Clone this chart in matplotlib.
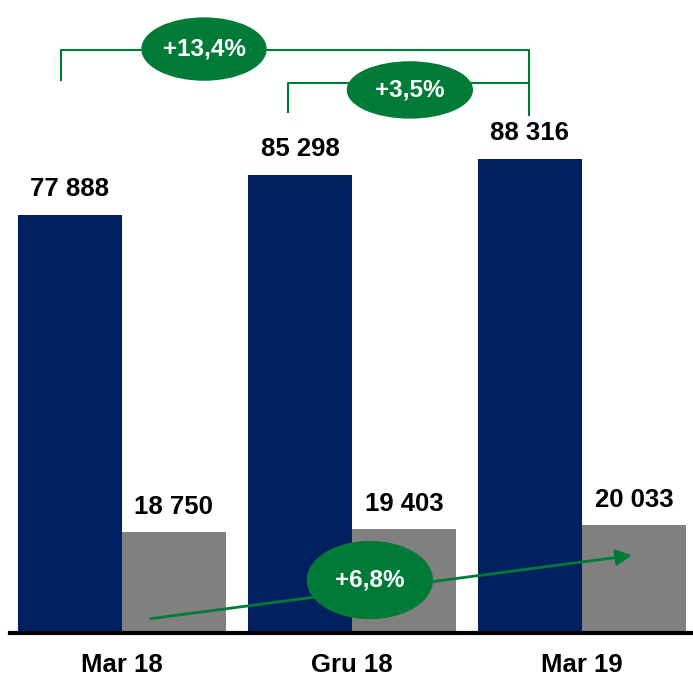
import matplotlib.pyplot as plt
from matplotlib.patches import Ellipse
import numpy as np

plt.rcParams['font.family'] = ['Liberation Sans', 'DejaVu Sans']

okresy = ['Mar 18', 'Gru 18', 'Mar 19']
seria_a = [77888, 85298, 88316]
seria_b = [18750, 19403, 20033]
etykiety_a = ['77 888', '85 298', '88 316']
etykiety_b = ['18 750', '19 403', '20 033']

granat = '#002060'
szary = '#808080'
zielony = '#007A37'

fig = plt.figure(figsize=(6.93, 6.77), dpi=100)
ax = fig.add_axes([0, 0.065, 1, 0.935])

x = np.arange(len(okresy))
w = 0.452
ax.bar(x - w / 2, seria_a, w, color=granat, zorder=2)
ax.bar(x + w / 2, seria_b, w, color=szary, zorder=2)

for i in range(len(okresy)):
    ax.text(x[i] - w / 2, seria_a[i] + 4800, etykiety_a[i], ha='center', va='center',
            fontsize=18.5, fontweight='bold')
    ax.text(x[i] + w / 2, seria_b[i] + 4700, etykiety_b[i], ha='center', va='center',
            fontsize=18.5, fontweight='bold')

ax.set_xlim(-0.530, 2.483)
ax.set_ylim(0, 117940)
ax.axis('off')

# os pozioma
ax.plot([-0.487, 2.483], [0, 0], color='black', lw=3, zorder=3, clip_on=False)
for i in range(len(okresy)):
    ax.text(x[i], -6000, okresy[i], ha='center', va='center', fontsize=18.5, fontweight='bold')

# klamry
ax.plot([-0.265, -0.265, 1.770, 1.770], [103040, 108630, 108630, 96520], color=zielony, lw=1.5)
ax.plot([0.722, 0.722, 1.770], [97080, 102480, 102480], color=zielony, lw=1.5)

# elipsy z procentami
def elipsa(cx, cy, szer, wys, tekst):
    e = Ellipse((cx, cy), szer, wys, color=zielony, zorder=5)
    ax.add_patch(e)
    ax.text(cx, cy, tekst, ha='center', va='center', color='white', fontsize=17.5,
            fontweight='bold', zorder=6)

elipsa(0.357, 108800, 0.539, 11550, '+13,4%')
elipsa(1.252, 101180, 0.543, 10430, '+3,5%')

# strzalka trendu
ax.annotate('', xy=(2.230, 14530), xytext=(0.113, 2600),
            arrowprops=dict(arrowstyle='-|>', color=zielony, lw=2, mutation_scale=24), zorder=4)
elipsa(1.078, 9870, 0.543, 14300, '+6,8%')

fig.savefig('out.png', dpi=100)
